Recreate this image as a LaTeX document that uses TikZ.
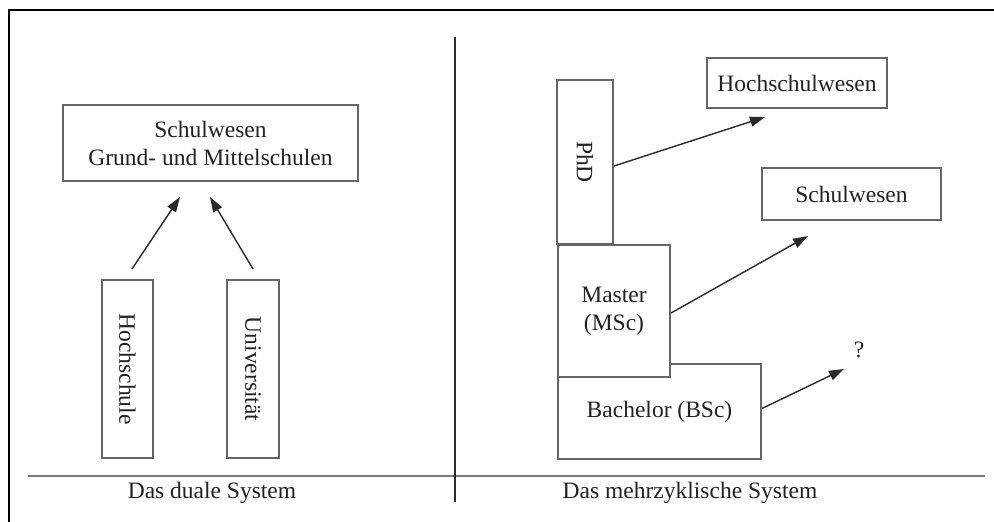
\documentclass[tikz,border=0pt]{standalone}
\usepackage{fontspec}
\setmainfont{Liberation Serif}
\usetikzlibrary{arrows.meta,calc}

\definecolor{textgray}{HTML}{222222}
\definecolor{boxgray}{HTML}{666666}
\definecolor{arrgray}{HTML}{2A2A2A}
\definecolor{sepgray}{HTML}{7A7A7A}

\begin{document}
\begin{tikzpicture}[x=1pt, y=-1pt, font=\fontsize{23.5}{28}\selectfont,
    box/.style={draw=boxgray, line width=2pt, fill=white, inner sep=0pt,
      align=center, text=textgray},
    arr/.style={-{Triangle[length=15pt,width=10pt]}, line width=1.4pt, draw=arrgray},
    label/.style={text=textgray}]
      \useasboundingbox (0,0) rectangle (994,522);

      % Frame and dividers
      \draw[line width=2.6pt] (9,522) -- (9,10) -- (994,10);
      \draw[line width=2.6pt, draw=sepgray] (28,476) -- (985,476);
      \draw[line width=1.5pt, draw=arrgray] (455,37) -- (455,502);

      % Dual system
      \node[box, minimum width=295pt, minimum height=76pt] (schule) at (210.5,143)
        {Schulwesen\\Grund- und Mittelschulen};
      \node[box, rotate=-90, minimum width=178pt, minimum height=51pt] (hoch) at (127.5,369) {Hochschule};
      \node[box, rotate=-90, minimum width=178pt, minimum height=52pt] (uni) at (253,369) {Universität};

      \coordinate (hochziel) at (180,197);
      \coordinate (uniziel) at (210,197);
      \draw[arr] ($(hoch.west)+(4.5,-10)$) -- (hochziel);
      \draw[arr] ($(uni.west)+(0,-10)$) -- (uniziel);

      % Multi-cycle system (Bachelor first, Master on top of it)
      \node[box, anchor=north west, minimum width=203pt, minimum height=95pt] (bsc) at (557,363)
        {\raisebox{-8pt}{Bachelor (BSc)}};
      \node[box, anchor=north west, minimum width=112pt, minimum height=132pt] (msc) at (557,244)
        {Master\\(MSc)};
      \node[box, rotate=-90, minimum width=164pt, minimum height=56pt] (phd) at (585,162) {PhD};
      \node[box, minimum width=180pt, minimum height=50pt] (hsw) at (797,83) {Hochschulwesen};
      \node[box, minimum width=179pt, minimum height=52pt] (sw) at (851.5,194) {Schulwesen};

      \coordinate (phdziel) at (765,117);
      \coordinate (mscziel) at (808,236);
      \coordinate (bscziel) at (844,369);
      \draw[arr] ($(phd.north)+(0,4)$) -- (phdziel);
      \draw[arr] ($(msc.east)+(0,2)$) -- (mscziel);
      \draw[arr] ($(bsc.east)+(0,-3)$) -- (bscziel);
      \node[label] (frage) at (859,350) {?};

      % Captions
      \node[label] (dual) at (212,493) {Das duale System};
      \node[label] (mehr) at (690,493) {Das mehrzyklische System};

\end{tikzpicture}
\end{document}
